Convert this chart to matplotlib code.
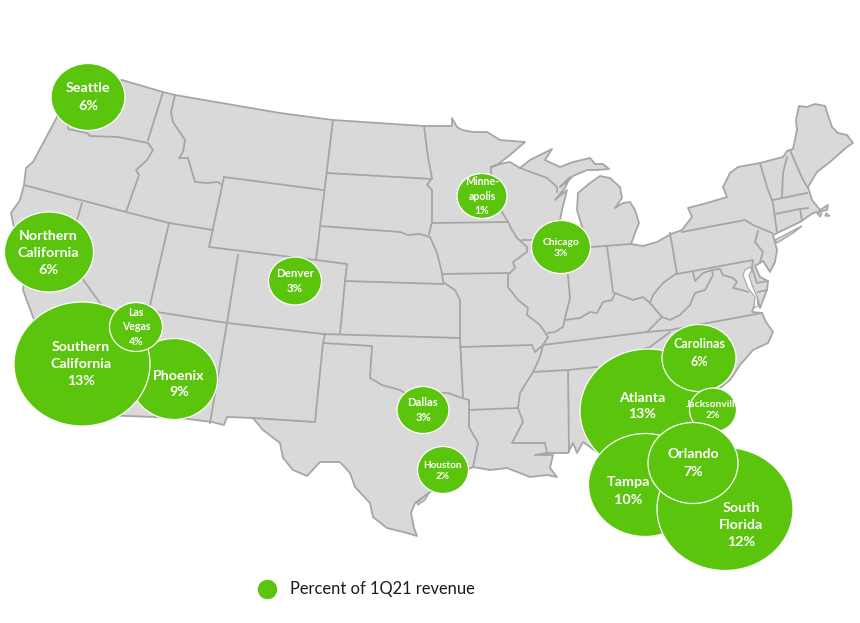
#!/bin/env python

import matplotlib
matplotlib.use("Agg")
import matplotlib.pyplot as plt
from matplotlib.lines import Line2D
from matplotlib.patches import Ellipse, Polygon, Rectangle

# Bubble data, map positions in picture pixels
markets = ["Seattle", "Northern\nCalifornia", "Phoenix", "Southern\nCalifornia", "Las\nVegas",
           "Denver", "Minne-\napolis", "Chicago", "Dallas", "Houston",
           "Atlanta", "Carolinas", "Jacksonville", "Tampa", "South\nFlorida", "Orlando"]
revenue_pct = [6, 6, 9, 13, 4, 3, 1, 3, 3, 2, 13, 6, 2, 10, 12, 7]
bubble_x = [88, 49, 174, 82, 136, 295, 482, 561, 423, 443, 648, 699, 713, 645, 725, 693]
bubble_y = [97, 252, 379, 364, 327, 281, 196, 247, 410, 470, 411, 358, 410, 485, 509, 463]
bubble_w = [74, 89, 87, 136, 53, 53, 50, 59, 52, 51, 136, 74, 47, 113, 136, 90]
bubble_h = [67, 80, 81, 124, 49, 48, 45, 53, 47, 47, 124, 67, 44, 103, 123, 81]
label_x = [88, 48, 179, 81, 136, 295, 482, 561, 423, 443, 642, 699, 713, 628, 741, 693]
label_y = [97, 253, 384, 364, 327, 281, 196, 248, 410, 471, 406, 353, 410, 491, 525, 463]
label_size = [10.3, 10.3, 10.2, 10.2, 7.6, 8.3, 7.6, 7.4, 8.1, 7.2, 10.2, 9.1, 7.4, 10.4, 10.3, 10.2]

# Lower 48 outline
us_outline = [
    (57, 100), (122, 80), (163, 92), (175, 95), (280, 113), (333, 120), (424, 126), (452, 126),
    (452, 118), (457, 127), (462, 130), (473, 132), (487, 132), (500, 140), (525, 142), (510, 155),
    (497, 165), (491, 167), (500, 164), (510, 162), (520, 168), (530, 160), (552, 149), (545, 160),
    (560, 167), (573, 162), (590, 158), (595, 164), (603, 164), (609, 169), (597, 170), (587, 170),
    (573, 176), (568, 181), (560, 187), (570, 177), (565, 188), (555, 200), (567, 190), (562, 210),
    (560, 220), (558, 240), (570, 245), (585, 240), (583, 230), (577, 210), (578, 193), (590, 183),
    (600, 176), (610, 178), (620, 187), (622, 198), (615, 208), (623, 203), (630, 202), (635, 210),
    (639, 223), (635, 233), (631, 244), (643, 246), (657, 242), (671, 234), (682, 230), (692, 217),
    (688, 208), (707, 203), (727, 197), (723, 187), (730, 173), (738, 167), (760, 163), (783, 157),
    (787, 151), (793, 149), (797, 130), (796, 120), (799, 106), (807, 107), (815, 104), (825, 106),
    (832, 127), (838, 133), (847, 135), (853, 143), (847, 147), (830, 162), (817, 172), (808, 187),
    (812, 200), (820, 210), (828, 205), (827, 210), (813, 213), (800, 222), (773, 235), (777, 250),
    (775, 262), (770, 272), (763, 261), (755, 266), (760, 277), (768, 281), (767, 290), (760, 308),
    (757, 297), (752, 312), (762, 313), (766, 322), (773, 332), (768, 343), (753, 350), (740, 365),
    (730, 380), (720, 388), (700, 410), (690, 430), (700, 470), (725, 520), (710, 520), (680, 480),
    (660, 450), (640, 445), (610, 445), (597, 452), (583, 442), (577, 453), (573, 443), (568, 453),
    (547, 453), (535, 455), (553, 455), (550, 468), (557, 477), (547, 475), (530, 477), (507, 468),
    (490, 470), (473, 467), (450, 478), (430, 492), (415, 503), (411, 513), (414, 528), (417, 536),
    (407, 533), (387, 528), (373, 517), (370, 503), (355, 487), (350, 473), (340, 462), (320, 462),
    (307, 476), (293, 470), (283, 458), (280, 443), (263, 430), (253, 418), (227, 417), (224, 425),
    (212, 422), (180, 418), (100, 415), (70, 380), (33, 317), (23, 290), (25, 270), (13, 223),
    (11, 213), (20, 200), (24, 185), (26, 168), (33, 162), (57, 117),
]
chesapeake = [(750, 267), (745, 270), (743, 275), (748, 288), (755, 297), (754, 308), (758, 306), (757, 297),
              (752, 285), (749, 275), (752, 270)]
long_island = [(775, 240), (802, 226), (793, 233), (777, 243)]
padre_island = [(417, 503), (429, 493), (425, 500), (418, 505)]
cape_islands = [[(817, 213), (822, 213), (820, 217)], [(826, 213), (830, 216), (825, 216)]]

# State borders
state_lines = [
    [(68, 126), (68, 129), (87, 133), (90, 136), (118, 137), (148, 143)],
    [(163, 92), (148, 140)],
    [(148, 143), (153, 150), (147, 160), (136, 170), (139, 175), (126, 212)],
    [(24, 185), (126, 212), (169, 223), (213, 230)],
    [(175, 95), (171, 112), (173, 122), (185, 140), (183, 152), (179, 158), (188, 158), (195, 182),
     (207, 183), (218, 182), (222, 185)],
    [(224, 177), (209, 247), (316, 260)],
    [(224, 177), (323, 190)],
    [(333, 120), (316, 260)],
    [(327, 173), (432, 179)],
    [(424, 126), (428, 157), (432, 178), (427, 185), (432, 190), (432, 222), (429, 234)],
    [(320, 226), (400, 232), (408, 235), (420, 234), (430, 237), (437, 253), (442, 273), (443, 282),
     (455, 290), (460, 300), (460, 338), (463, 398)],
    [(432, 223), (508, 222)],
    [(491, 167), (491, 173), (502, 212), (508, 222), (512, 230), (517, 238), (527, 247), (527, 252),
     (513, 262), (515, 268), (508, 275), (508, 287), (518, 300), (528, 308), (527, 315), (540, 325),
     (548, 337), (543, 345), (535, 352), (532, 345), (460, 347)],
    [(442, 274), (508, 273)],
    [(522, 240), (533, 240), (558, 240)],
    [(520, 168), (547, 178), (557, 187), (557, 192)],
    [(316, 260), (347, 264), (345, 281), (340, 334)],
    [(345, 281), (443, 284)],
    [(323, 334), (460, 338)],
    [(169, 223), (150, 305), (145, 330)],
    [(82, 203), (77, 220), (70, 245), (82, 278), (100, 303), (130, 340)],
    [(238, 255), (227, 323), (210, 423)],
    [(157, 312), (227, 323), (323, 334)],
    [(325, 334), (323, 343), (315, 422), (253, 418)],
    [(323, 343), (372, 346), (370, 378), (382, 385), (400, 390), (405, 393), (448, 393), (462, 398),
     (469, 400), (469, 427), (478, 443), (473, 467)],
    [(469, 410), (518, 408), (523, 422), (512, 443), (545, 443), (547, 453)],
    [(543, 345), (540, 357), (533, 372), (520, 393), (518, 408)],
    [(543, 345), (647, 332), (670, 330), (762, 313)],
    [(533, 372), (568, 370), (597, 367)],
    [(568, 370), (569, 452)],
    [(568, 275), (570, 298), (565, 318), (563, 327), (555, 332), (548, 333)],
    [(565, 320), (580, 318), (590, 312), (597, 313), (603, 302), (612, 300), (615, 293), (633, 300),
     (643, 297), (650, 303), (653, 295), (663, 283), (670, 278), (677, 273)],
    [(592, 247), (631, 244)],
    [(607, 246), (613, 292)],
    [(670, 233), (677, 274), (753, 260), (752, 268), (757, 283), (768, 281)],
    [(682, 232), (745, 220), (753, 225), (772, 233)],
    [(758, 231), (755, 242), (763, 252), (760, 262)],
    [(760, 163), (767, 187), (773, 203), (777, 233)],
    [(787, 157), (783, 173), (782, 197)],
    [(773, 200), (807, 193)],
    [(790, 150), (803, 180), (808, 188)],
    [(775, 214), (800, 209), (808, 208)],
    [(800, 209), (802, 221)],
    [(650, 303), (662, 317), (670, 320), (680, 315), (690, 305), (695, 293), (705, 290), (713, 275),
     (712, 270), (720, 269), (723, 275), (733, 278), (737, 282), (733, 288), (742, 290), (748, 292)],
    [(662, 317), (647, 332)],
    [(693, 272), (695, 281), (703, 273), (712, 270)],
    [(758, 292), (767, 290)],
    [(670, 332), (650, 347), (640, 350)],
]

land_color = "#D9D9D9"
border_color = "#A6A6A6"
bubble_color = "#5BC40C"
plt.rcParams["font.family"] = ["Lato", "DejaVu Sans"]

fig = plt.figure(figsize=(8.6, 6.23), dpi=100)
ax = fig.add_axes([0, 0, 1, 1])
ax.set_xlim(0, 860)
ax.set_ylim(623, 0)
ax.axis("off")

# Map
ax.add_patch(Polygon(us_outline, closed=True, fc=land_color, ec=border_color, lw=1.3, joinstyle="round", zorder=1))
for shape in [long_island, padre_island] + cape_islands:
    ax.add_patch(Polygon(shape, closed=True, fc=land_color, ec=border_color, lw=1.0, zorder=1))
ax.add_patch(Polygon(chesapeake, closed=True, fc="white", ec=border_color, lw=0.8, zorder=2))
for line in state_lines:
    xs, ys = zip(*line)
    ax.plot(xs, ys, color=border_color, lw=1.3, solid_joinstyle="round", zorder=2)

# Bubbles, list order is the stacking order
for i, name in enumerate(markets):
    ax.add_patch(Ellipse((bubble_x[i], bubble_y[i]), bubble_w[i], bubble_h[i], fc=bubble_color,
                         ec="white", lw=0.9, zorder=3 + i))
    spacing = 1.5 if label_size[i] > 9 else 1.35
    t = ax.text(label_x[i], label_y[i], f"{name}\n{revenue_pct[i]}%", color="white", ha="center", va="center",
                fontsize=label_size[i], fontweight="bold", linespacing=spacing, zorder=3 + i)
    if name == "Jacksonville":
        t.set_clip_path(Rectangle((680, 380), 56, 60, transform=ax.transData))

# Legend
handle = Line2D([], [], linestyle="none", marker="o", markersize=13, color=bubble_color)
ax.legend([handle], ["Percent of 1Q21 revenue"], loc="center left", bbox_to_anchor=(0.2745, 0.054),
          frameon=False, fontsize=11.9, labelcolor="#1A1A1A", handletextpad=0.35)

fig.savefig("out.png", dpi=100)
